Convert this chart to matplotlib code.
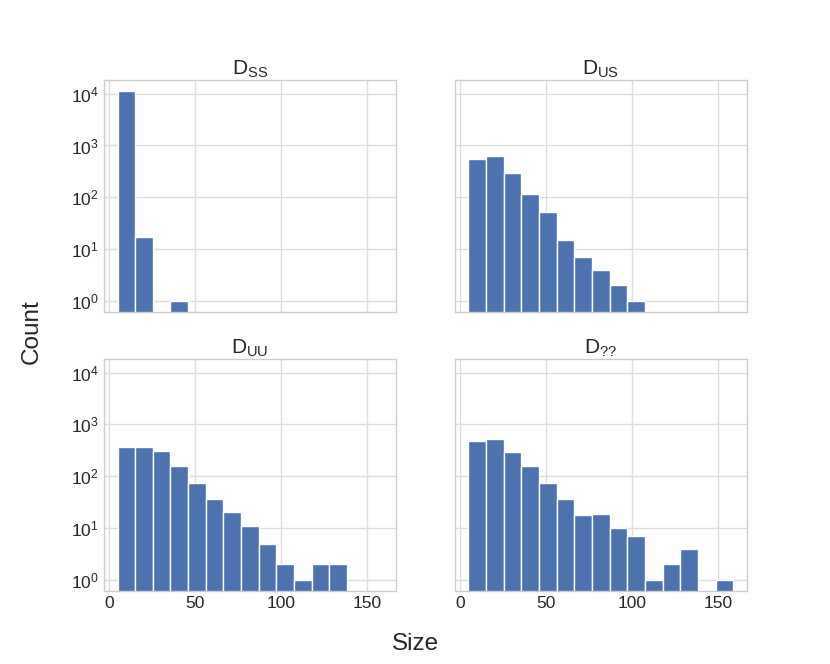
import numpy as np
import matplotlib
matplotlib.use("Agg")
import matplotlib.pyplot as plt

# Histogram bin edges (shared across panels)
bin_lo, bin_hi, n_bins = 5, 159, 15

titles = ["SS", "US", "UU", "??"]
counts_ss = [11200, 17, 0, 1, 0, 0, 0, 0, 0, 0, 0, 0, 0, 0, 0]
counts_us = [546, 633, 298, 114, 51, 15, 7, 4, 2, 1, 0, 0, 0, 0, 0]
counts_uu = [370, 365, 301, 155, 75, 37, 20, 11, 5, 2, 1, 2, 2, 0, 0]
counts_qq = [469, 525, 292, 155, 74, 37, 18, 19, 10, 7, 1, 2, 4, 0, 1]
all_counts = [counts_ss, counts_us, counts_uu, counts_qq]

x_ticks = [0, 50, 100, 150]

plt.rcParams.update({
    "font.family": ["Liberation Sans", "DejaVu Sans"],
    "mathtext.default": "regular",
    "axes.edgecolor": "#cccccc",
    "axes.linewidth": 1.0,
    "grid.color": "#dddddd",
    "grid.linewidth": 1.0,
    "xtick.major.size": 0,
    "ytick.major.size": 0,
    "ytick.minor.size": 0,
    "xtick.labelsize": 12.5,
    "ytick.labelsize": 12.5,
    "text.color": "#262626",
    "xtick.color": "#262626",
    "ytick.color": "#262626",
})

edges = np.linspace(bin_lo, bin_hi, n_bins + 1)
centers = (edges[:-1] + edges[1:]) / 2

fig, axes = plt.subplots(2, 2, sharex=True, sharey=True, figsize=(8.3, 6.64), dpi=100)
fig.subplots_adjust(left=0.125, right=0.9, top=0.88, bottom=0.11, wspace=0.2, hspace=0.2)

for ax, name, cnt in zip(axes.flat, titles, all_counts):
    ax.hist(centers, bins=edges, weights=cnt, color="#4C72B0",
            edgecolor="white", linewidth=1.0, log=True)
    ax.set_title(r"$D_{" + name.replace("?", "?") + r"}$", fontsize=15, pad=2)
    ax.grid(True, which="major", axis="both")
    ax.set_axisbelow(True)
    ax.minorticks_off()

ax0 = axes[0, 0]
ax0.set_yscale("log")
ax0.set_ylim(10 ** -0.215, 10 ** 4.27)
ax0.set_yticks([1, 10, 100, 1000, 10000])
ax0.set_xticks(x_ticks)
ax0.set_xlim(-3.0, 167.0)
for ax in axes.flat:
    ax.minorticks_off()

fig.text(0.5, 1 - 644 / 664, "Size", ha="center", va="center", fontsize=17.5)
fig.text(32 / 830, 1 - 332 / 664, "Count", ha="center", va="center",
         rotation=90, fontsize=17.5)

fig.savefig("out.png", dpi=100)
